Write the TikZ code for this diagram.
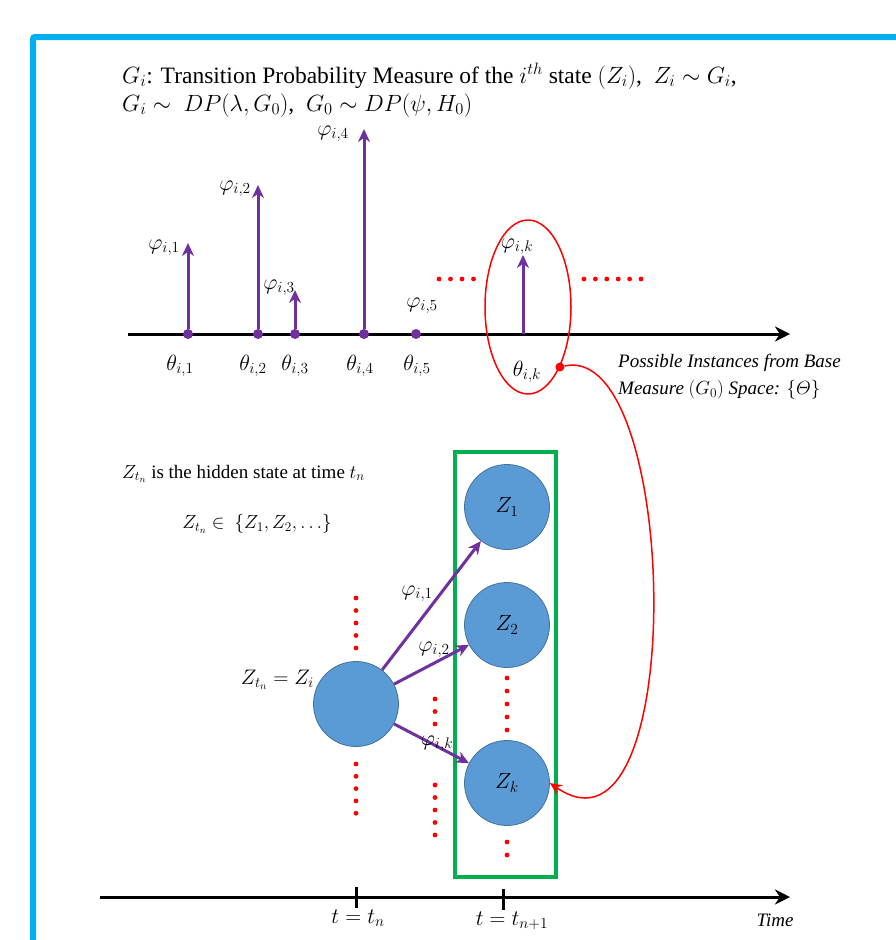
\RequirePackage{fix-cm}
\documentclass[tikz,border=0pt]{standalone}
\usepackage{amsmath}
\usepackage{fontspec}
\setmainfont{Liberation Serif}
\usetikzlibrary{arrows.meta, positioning, shapes.geometric, fit}

\definecolor{frameblue}{RGB}{0,176,240}
\definecolor{weightpurple}{RGB}{112,48,160}
\definecolor{statefill}{RGB}{91,155,213}
\definecolor{stateedge}{RGB}{65,113,156}
\definecolor{groupgreen}{RGB}{0,176,80}

\begin{document}
\begin{tikzpicture}[x=1pt, y=-1pt,
    every node/.style={font=\fontsize{22}{26}\selectfont, inner sep=0pt},
    heading/.style={font=\fontsize{23.5}{28}\selectfont, anchor=base west},
    note/.style={font=\fontsize{19}{22}\selectfont},
    basenote/.style={font=\fontsize{19}{27}\selectfont\itshape, align=left, anchor=west},
    baseaxis/.style={-{Stealth[length=15pt, width=15pt]}, line width=3pt},
    atom/.style={circle, fill=weightpurple, minimum size=10pt},
    weight/.style={-{Stealth[length=13pt, width=12pt]}, weightpurple, line width=3pt},
    zstate/.style={circle, fill=statefill, draw=stateedge, line width=0.8pt, minimum size=85pt},
    groupbox/.style={draw=groupgreen, line width=4pt},
    link/.style={-{Stealth[length=12pt, width=11pt]}, red, line width=1.5pt},
    tickmark/.style={line width=3pt}
]
    \useasboundingbox (0,0) rectangle (896,940);
    \draw[frameblue, line width=6pt, rounded corners=2pt] (33,970) |- (930,37);

    % heading
    \node (head1) [heading] at (122,83) {$G_i$: Transition Probability Measure of the $i^{th}$ state $(Z_i)$,\enskip $Z_i \sim G_i$,};
    \node (head2) [heading] at (122,111) {$G_i \sim\ DP(\lambda, G_0)$,\enskip $G_0 \sim DP(\psi, H_0)$};

    % base measure space
    \coordinate (ax0) at (128,334);
    \coordinate (ax1) at (790,334);
    \draw[baseaxis] (ax0) -- (ax1);

    \foreach \n/\x in {1/188, 2/258, 3/295, 4/364, 5/416}
        \node (th\n) [atom] at (\x,334) {};
    \coordinate (thk) at (523,334);

    \foreach \n/\x/\y in {1/188/243, 2/258/185, 3/295/290, 4/364/129} {
        \coordinate (ph\n) at (\x,\y);
        \draw[weight] (th\n) -- (ph\n);
    }
    \coordinate (phk) at (523,255);
    \draw[weight] (thk) -- (phk);

    \node (lph1) at (164,248) {$\varphi_{i,1}$};
    \node (lph2) at (235,189) {$\varphi_{i,2}$};
    \node (lph3) at (279,288) {$\varphi_{i,3}$};
    \node (lph4) at (333,134) {$\varphi_{i,4}$};
    \node (lph5) at (422,306) {$\varphi_{i,5}$};
    \node (lphk) at (517,247) {$\varphi_{i,k}$};

    \node (lth1) at (180,366) {$\theta_{i,1}$};
    \node (lth2) at (253,366) {$\theta_{i,2}$};
    \node (lth3) at (295,366) {$\theta_{i,3}$};
    \node (lth4) at (360,366) {$\theta_{i,4}$};
    \node (lth5) at (417,366) {$\theta_{i,5}$};
    \node (lthk) at (527,372) {$\theta_{i,k}$};

    \foreach \i in {0,...,3}
        \fill[red] ({439+11.5*\i},279) circle (2.4pt);
    \foreach \i in {0,...,5}
        \fill[red] ({584+11.4*\i},279) circle (2.4pt);

    \node (pick) [draw=red, ellipse, line width=1.5pt, minimum width=86pt, minimum height=174pt] at (528,307) {};
    \node (pin) [circle, fill=red, minimum size=9pt] at (pick.-62) {};
    \node (base) [basenote] at (618,377) {Possible Instances from Base\\Measure $(G_0)$ Space: $\{\varTheta\}$};

    % hidden states
    \node (hid) [note, anchor=base west] at (122,478) {$Z_{t_n}$ is the hidden state at time $t_n$};
    \node (dom) [note] at (257,524) {$Z_{t_n} \in\ \{Z_1, Z_2, \ldots\}$};

    \node (zi) [zstate] at (356,704) {};
    \node (z1) [zstate] at (507,507) {$Z_1$};
    \node (z2) [zstate] at (507,625) {$Z_2$};
    \node (zk) [zstate] at (507,783) {$Z_k$};
    \node (grp) [groupbox, fit={(455,452) (556,877)}] {};
    \node (zilab) [anchor=east, font=\fontsize{21}{24}\selectfont] at (314,680) {$Z_{t_n} = Z_i$};

    \draw[weight] (zi) -- (z1);
    \draw[weight] (zi) -- (z2);
    \draw[weight] (zi) -- (zk);
    \node (lt1) at (417,594) {$\varphi_{i,1}$};
    \node (lt2) at (434,650) {$\varphi_{i,2}$};
    \node (ltk) at (437,744) {$\varphi_{i,k}$};

    \foreach \i in {0,...,4} {
        \fill[red] (356,{598+12.5*\i}) circle (2.4pt);
        \fill[red] (356,{764+12.3*\i}) circle (2.4pt);
        \fill[red] (435,{785+12.5*\i}) circle (2.4pt);
        \fill[red] (507,{678+13*\i}) circle (2.4pt);
    }
    \foreach \i in {0,...,2}
        \fill[red] (435,{699+12.5*\i}) circle (2.4pt);
    \foreach \i in {0,1}
        \fill[red] (507,{842+13*\i}) circle (2.4pt);

    \draw[link] (pin) .. controls (680,340) and (690,880) .. (zk.east);

    % time line
    \coordinate (tx0) at (100,897);
    \coordinate (tx1) at (790,897);
    \draw[baseaxis] (tx0) -- (tx1);
    \coordinate (tn) at (356,897);
    \coordinate (tn1) at (503,898);
    \draw[tickmark] ([yshift=10pt]tn) -- ([yshift=-11pt]tn);
    \draw[tickmark] ([yshift=9pt]tn1) -- ([yshift=-12pt]tn1);
    \node (ltn) at (358,918) {$t = t_n$};
    \node (ltn1) at (512,921) {$t = t_{n+1}$};
    \node (ltime) [note] at (775,920) {\textit{Time}};
\end{tikzpicture}
\end{document}
